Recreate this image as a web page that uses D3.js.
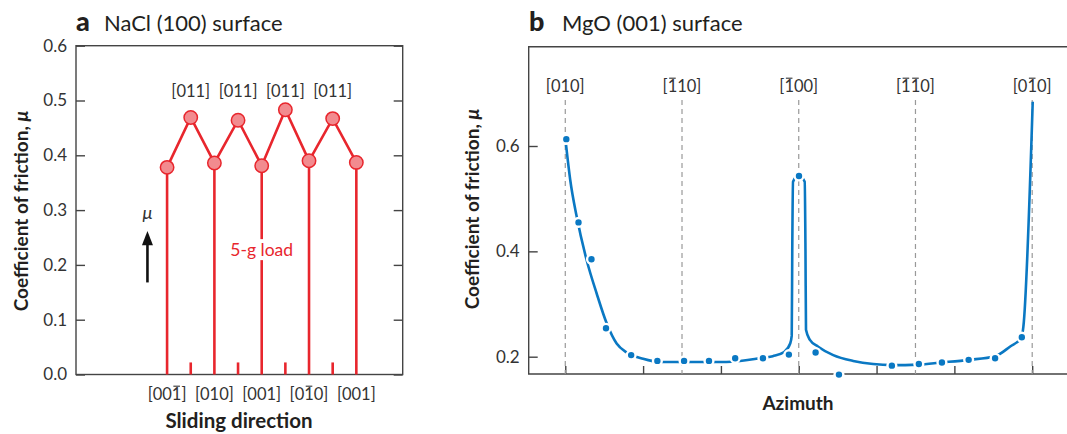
<!DOCTYPE html>
<html>
<head>
<meta charset="utf-8">
<script src="https://cdn.jsdelivr.net/npm/d3@7"></script>
<style>
  body { margin: 0; background: #fff; }
  svg { display: block; font-family: "Lato", "Open Sans", sans-serif; }
</style>
</head>
<body>
<svg width="1067" height="434"></svg>
<script>
// panel a: NaCl (100), values along the sliding sequence (low, peak, low, ...)
const naclMu = [0.378, 0.469, 0.386, 0.464, 0.381, 0.483, 0.390, 0.467, 0.387];
const naclTopLabels = ["[011]", "[011]", "[011]", "[011]"];
// "~" marks a digit with an overbar
const naclDirLabels = ["[00~1]", "[010]", "[001]", "[0~10]", "[001]"];
const naclTicks = [0, 0.1, 0.2, 0.3, 0.4, 0.5, 0.6];

// panel b: MgO (001), azimuth in degrees
const mgoAz = [0.4, 5.1, 10.1, 15.7, 25.4, 35.5, 45.8, 55.4, 65.5, 76.2, 86.2, 90.1, 96.5, 105.5, 125.9, 136.3, 145.2, 155.5, 165.7, 176.0];
const mgoMu = [0.613, 0.455, 0.385, 0.254, 0.203, 0.192, 0.192, 0.192, 0.197, 0.197, 0.204, 0.543, 0.208, 0.166, 0.183, 0.186, 0.189, 0.194, 0.197, 0.237];
const fitAz = [0.3, 1.9, 4.4, 8.2, 12.1, 16, 19.8, 23.7, 30, 36.5, 49, 62, 75, 80, 84.4, 86.7, 87.3, 87.5, 87.8, 89.9, 92.3, 92.6, 92.8, 94.3, 97.5, 103.3, 111, 118.7, 126, 136, 145, 155.5, 165.7, 171.4, 175.9, 176.6, 180.2];
const fitMu = [0.602, 0.536, 0.466, 0.384, 0.320, 0.263, 0.225, 0.208, 0.196, 0.190, 0.190, 0.190, 0.197, 0.201, 0.209, 0.225, 0.240, 0.40, 0.532, 0.545, 0.532, 0.40, 0.251, 0.232, 0.219, 0.203, 0.192, 0.186, 0.184, 0.185, 0.189, 0.194, 0.201, 0.219, 0.237, 0.257, 0.684];
const dirAz = [0, 45, 90, 135, 180];
const dirLabels = ["[010]", "[~110]", "[~100]", "[~1~10]", "[0~10]"];
const mgoTicks = [0.2, 0.4, 0.6];
const azTicks = [0, 30, 60, 90, 120, 150, 180];

const svg = d3.select("svg");
const red = "#e8262d", pink = "#f28b8f", blue = "#0a78c3", ink = "#333", dark = "#231f20", axisCol = "#444";

function barText(sel, label) {
    // write the plain label, then draw a short bar over each marked digit
    const bars = [];
    let plain = "";
    for (let i = 0; i < label.length; i++) {
        if (label[i] === "~") { bars.push(plain.length); continue; }
        plain += label[i];
    }
    sel.text(plain);
    const node = sel.node();
    const parent = d3.select(node.parentNode);
    bars.forEach(k => {
        const e = node.getExtentOfChar(k);
        parent.append("line")
            .attr("x1", e.x + 1.5).attr("x2", e.x + e.width - 1.5)
            .attr("y1", e.y + 2.2).attr("y2", e.y + 2.2)
            .attr("stroke", ink).attr("stroke-width", 1.1);
    });
}

function styleAxis(g) {
    g.select(".domain").remove();
    g.selectAll(".tick line").attr("stroke", axisCol).attr("stroke-width", 1.4);
    g.selectAll(".tick text").attr("fill", ink).attr("font-size", 17).attr("font-family", "Lato, sans-serif");
}

// ---------- panel a ----------
const xa = d3.scaleLinear().domain([-3.85, 9.96]).range([76, 402.7]);
const ya = d3.scaleLinear().domain([0, 0.6]).range([374.5, 45.7]);
const ga = svg.append("g");

ga.append("g").attr("transform", `translate(${xa.range()[0]},0)`)
    .call(d3.axisLeft(ya).tickValues(naclTicks).tickFormat(d3.format(".1f")).tickSizeInner(-9).tickSizeOuter(0).tickPadding(9))
    .call(styleAxis);
ga.append("g").attr("transform", `translate(${xa.range()[1]},0)`)
    .call(d3.axisRight(ya).tickValues(naclTicks).tickFormat("").tickSizeInner(-9).tickSizeOuter(0))
    .call(styleAxis);
ga.append("rect")
    .attr("x", xa.range()[0]).attr("y", ya.range()[1])
    .attr("width", xa.range()[1] - xa.range()[0]).attr("height", ya.range()[0] - ya.range()[1])
    .attr("fill", "none").attr("stroke", axisCol).attr("stroke-width", 1.4);

const naclPts = naclMu.map((m, i) => ({ i, m }));

// stems at the axis directions, short marks at the [011] positions
ga.selectAll(".stem").data(naclPts.filter(d => d.i % 2 === 0)).join("line")
    .attr("x1", d => xa(d.i)).attr("x2", d => xa(d.i))
    .attr("y1", d => ya(d.m)).attr("y2", ya(0))
    .attr("stroke", red).attr("stroke-width", 2.6);
ga.selectAll(".mark").data(naclPts.filter(d => d.i % 2 === 1)).join("line")
    .attr("x1", d => xa(d.i)).attr("x2", d => xa(d.i))
    .attr("y1", ya(0.022)).attr("y2", ya(0))
    .attr("stroke", red).attr("stroke-width", 2.6);

ga.append("path").datum(naclPts)
    .attr("d", d3.line().x(d => xa(d.i)).y(d => ya(d.m)))
    .attr("fill", "none").attr("stroke", red).attr("stroke-width", 2.6);

ga.selectAll("circle").data(naclPts).join("circle")
    .attr("cx", d => xa(d.i)).attr("cy", d => ya(d.m)).attr("r", 6.7)
    .attr("fill", pink).attr("stroke", red).attr("stroke-width", 1.5);

ga.selectAll(".toplab").data(naclTopLabels).join("text")
    .attr("x", (d, k) => xa(2 * k + 1)).attr("y", 97)
    .attr("text-anchor", "middle").attr("font-size", 16.5).attr("fill", ink)
    .text(d => d);

ga.selectAll(".dirlab").data(naclDirLabels).join("text")
    .attr("x", (d, k) => xa(2 * k)).attr("y", 400)
    .attr("text-anchor", "middle").attr("font-size", 16.5).attr("fill", ink)
    .each(function (d) { barText(d3.select(this), d); });

// "5-g load" note sits on a white patch over the middle stem
const note = ga.append("g");
const noteText = note.append("text")
    .attr("x", xa(4)).attr("y", ya(0.216))
    .attr("text-anchor", "middle").attr("font-size", 17.5).attr("fill", red)
    .text("5-g load");
const nb = noteText.node().getBBox();
note.insert("rect", "text").attr("x", nb.x).attr("y", nb.y).attr("width", nb.width).attr("height", nb.height).attr("fill", "#fff");

// mu arrow
const ax = xa(-0.83);
ga.append("line").attr("x1", ax).attr("x2", ax).attr("y1", ya(0.168)).attr("y2", ya(0.245))
    .attr("stroke", "#111").attr("stroke-width", 2.6);
ga.append("path")
    .attr("d", `M${ax},${ya(0.262)} L${ax - 5.5},${ya(0.236)} L${ax + 5.5},${ya(0.236)} Z`)
    .attr("fill", "#111");
ga.append("text").attr("x", ax).attr("y", ya(0.284)).attr("text-anchor", "middle")
    .attr("font-size", 18).attr("font-style", "italic").attr("fill", ink).text("μ");

// titles
ga.append("text").attr("x", 76).attr("y", 31).attr("font-size", 27).attr("font-weight", 900).attr("fill", dark).text("a");
ga.append("text").attr("x", 104).attr("y", 31).attr("font-size", 22).attr("fill", dark).text("NaCl (100) surface");
ga.append("text").attr("x", 239).attr("y", 428).attr("text-anchor", "middle")
    .attr("font-size", 20.5).attr("font-weight", 700).attr("fill", dark).text("Sliding direction");
const yla = ga.append("text").attr("transform", "translate(28,211) rotate(-90)").attr("text-anchor", "middle")
    .attr("font-size", 19).attr("font-weight", 700).attr("fill", dark);
yla.append("tspan").text("Coefficient of friction, ");
yla.append("tspan").attr("font-style", "italic").text("μ");

// ---------- panel b ----------
const xb = d3.scaleLinear().domain([-14.1, 193.8]).range([528.7, 1068]);
const yb = d3.scaleLinear().domain([0.2, 0.6]).range([356.7, 146]);
const yTop = 46.7, yBot = 374;
const gb = svg.append("g");

gb.append("g").attr("transform", `translate(${xb.range()[0]},0)`)
    .call(d3.axisLeft(yb).tickValues(mgoTicks).tickFormat(d3.format(".1f")).tickSizeInner(-9).tickSizeOuter(0).tickPadding(9))
    .call(styleAxis);
gb.append("g").attr("transform", `translate(0,${yBot})`)
    .call(d3.axisBottom(xb).tickValues(azTicks).tickFormat("").tickSizeInner(-8).tickSizeOuter(0))
    .call(styleAxis);
gb.append("path")
    .attr("d", `M${xb.range()[1]},${yTop} H${xb.range()[0]} V${yBot} H${xb.range()[1]}`)
    .attr("fill", "none").attr("stroke", axisCol).attr("stroke-width", 1.4);

gb.selectAll(".dir").data(dirAz).join("line")
    .attr("x1", d => xb(d)).attr("x2", d => xb(d))
    .attr("y1", 100).attr("y2", yBot)
    .attr("stroke", "#999").attr("stroke-width", 1.2).attr("stroke-dasharray", "5,4");
gb.selectAll(".dirlab").data(dirLabels).join("text")
    .attr("x", (d, k) => xb(dirAz[k])).attr("y", 92)
    .attr("text-anchor", "middle").attr("font-size", 16.5).attr("fill", ink)
    .each(function (d) { barText(d3.select(this), d); });

const fit = fitAz.map((a, i) => [a, fitMu[i]]);
gb.append("path").datum(fit)
    .attr("d", d3.line().x(d => xb(d[0])).y(d => yb(d[1])).curve(d3.curveMonotoneX))
    .attr("fill", "none").attr("stroke", blue).attr("stroke-width", 2.6);

gb.selectAll("circle").data(mgoAz.map((a, i) => [a, mgoMu[i]])).join("circle")
    .attr("cx", d => xb(d[0])).attr("cy", d => yb(d[1])).attr("r", 4.4)
    .attr("fill", blue).attr("stroke", "#fff").attr("stroke-width", 2.4);

gb.append("text").attr("x", 529).attr("y", 31).attr("font-size", 27).attr("font-weight", 900).attr("fill", dark).text("b");
gb.append("text").attr("x", 562).attr("y", 31).attr("font-size", 22).attr("fill", dark).text("MgO (001) surface");
gb.append("text").attr("x", 798).attr("y", 410).attr("text-anchor", "middle")
    .attr("font-size", 19).attr("font-weight", 700).attr("fill", dark).text("Azimuth");
const ylb = gb.append("text").attr("transform", "translate(479,209) rotate(-90)").attr("text-anchor", "middle")
    .attr("font-size", 19).attr("font-weight", 700).attr("fill", dark);
ylb.append("tspan").text("Coefficient of friction, ");
ylb.append("tspan").attr("font-style", "italic").text("μ");
</script>
</body>
</html>
